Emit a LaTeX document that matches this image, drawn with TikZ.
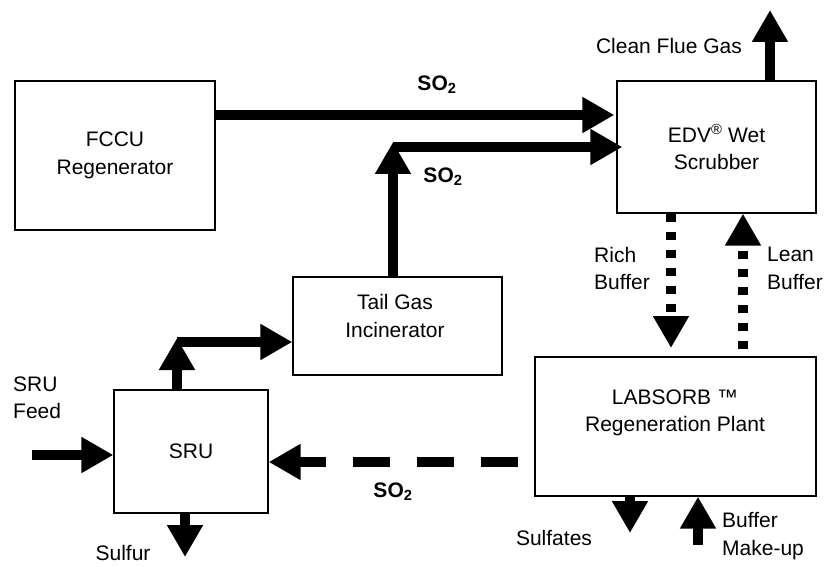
\documentclass[tikz,border=0pt]{standalone}
\usepackage{fontspec}
\setmainfont{Liberation Sans}
\usetikzlibrary{arrows.meta}

\begin{document}
\begin{tikzpicture}[x=1pt, y=-1pt,
    every node/.style={font=\fontsize{21}{27.5}\selectfont, inner sep=0pt, align=center},
    unit/.style={draw, line width=1.3pt},
    flow/.style={line width=10pt, -{Triangle[length=32pt,width=34pt]}},
    buffer/.style={flow, dash pattern=on 8pt off 10pt},
    so2/.style={font=\fontsize{21}{25}\selectfont\bfseries}]
    \useasboundingbox (0,0) rectangle (828,567);

    % FCCU Regenerator
    \node[unit, minimum width=200, minimum height=149] (fccu) at (115,155.5) {FCCU\\Regenerator};

    % EDV Wet Scrubber
    \node[unit, minimum width=199, minimum height=132] (scrub) at (716.5,147) {EDV\textsuperscript{®} Wet\\Scrubber};

    % Tail Gas Incinerator
    \node[unit, minimum width=209, minimum height=98] (tail) at (397.5,326) {};
    \node (tailtxt) at (395,316) {Tail Gas\\Incinerator};

    % SRU
    \node[unit, minimum width=154, minimum height=123] (sru) at (191,451.5) {SRU};

    % LABSORB Regeneration Plant
    \node[unit, minimum width=281, minimum height=139] (lab) at (675.5,426.5) {};
    \node (labtxt) at (675,413) {LABSORB ™\\Regeneration Plant};

    % Free ends
    \coordinate (flue) at (770,10);
    \coordinate (so2bend) at (393,147);
    \coordinate (srubend) at (177,342);
    \coordinate (feed) at (32,455);
    \coordinate (sulfur) at (185,557);
    \coordinate (ret) at (400,462);
    \coordinate (rich) at (671,348);
    \coordinate (lean) at (743,0);
    \coordinate (sulfates) at (630,533);
    \coordinate (makeup) at (698,545);

    % SO2 lines
    \draw[flow] (fccu.east |- 0,115) -- ([xshift=-2pt]scrub.west |- 0,115);
    \draw[flow] (tail.north -| so2bend) -- ([yshift=5pt]so2bend);
    \draw[flow] (so2bend) -- ([xshift=6pt]so2bend -| scrub.west);
    \draw[flow] (sru.north -| srubend) -- ([yshift=4pt]srubend);
    \draw[flow] (srubend) -- (tail.west |- srubend);
    \draw[flow, dash pattern=on 37pt off 27pt, dash phase=48pt] (lab.west |- ret) -- (sru.east |- ret);

    % Buffer loop
    \draw[buffer] (scrub.south -| rich) -- (rich);
    \draw[buffer, dash phase=11pt] (lab.north -| lean) -- (scrub.south -| lean);

    % In and out
    \draw[flow] (scrub.north -| flue) -- (flue);
    \draw[flow] (feed) -- (sru.west |- feed);
    \draw[flow] (sru.south -| sulfur) -- (sulfur);
    \draw[flow] (lab.south -| sulfates) -- (sulfates);
    \draw[flow] (makeup) -- (lab.south -| makeup);

    % Labels
    \node[so2] (so2a) at (437,85) {SO\textsubscript{2}};
    \node[so2] (so2b) at (443,177) {SO\textsubscript{2}};
    \node[so2] (so2c) at (393,492) {SO\textsubscript{2}};
    \node (fluetxt) at (669,46) {Clean Flue Gas};
    \node[anchor=west, align=left] (feedtxt) at (13,398) {SRU\\Feed};
    \node (sulfurtxt) at (123,553) {Sulfur};
    \node[anchor=west, align=left] (richtxt) at (594,268.5) {Rich\\Buffer};
    \node[anchor=west, align=left] (leantxt) at (767,268.5) {Lean\\Buffer};
    \node (sulfatestxt) at (554,538) {Sulfates};
    \node[anchor=west, align=left] (makeuptxt) at (722,536) {Buffer\\Make-up};
\end{tikzpicture}
\end{document}
